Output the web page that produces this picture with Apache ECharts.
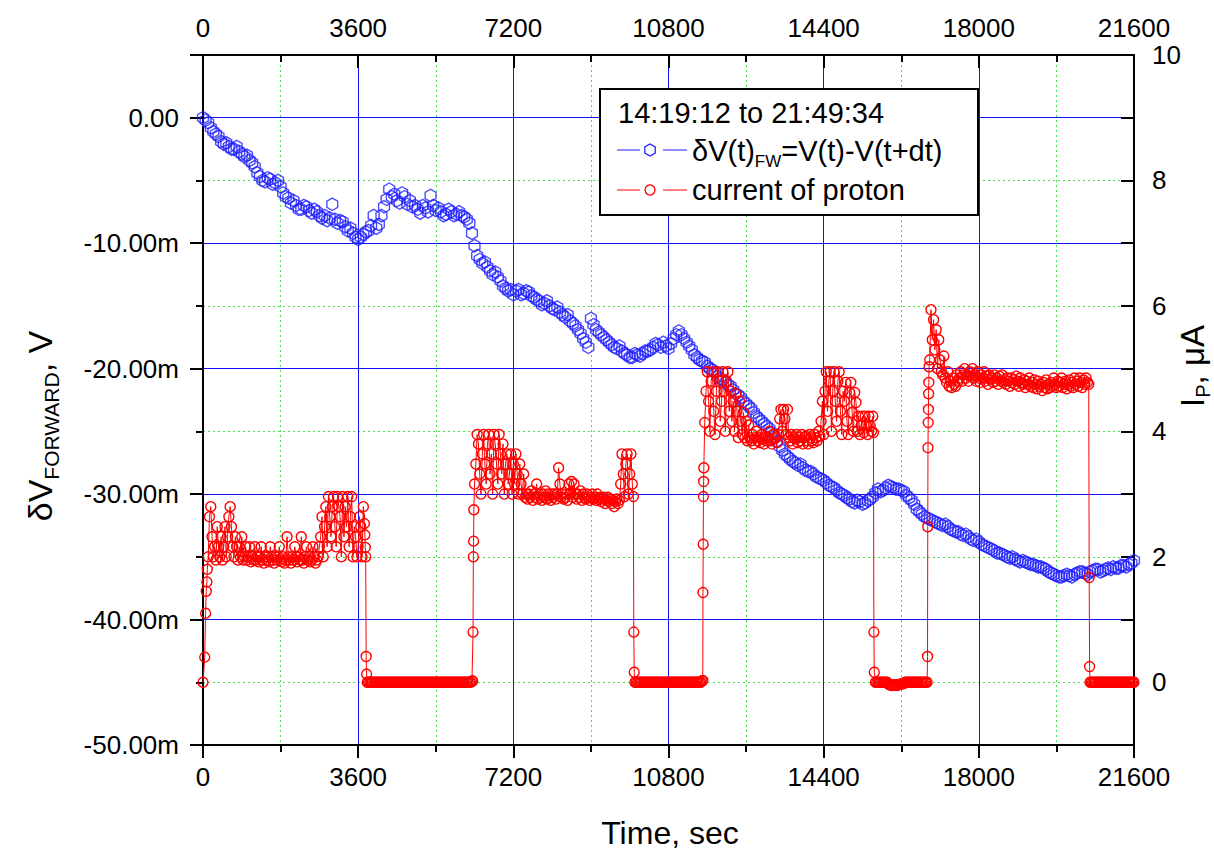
<!DOCTYPE html>
<html><head><meta charset="utf-8">
<script src="https://cdn.jsdelivr.net/npm/echarts@6/dist/echarts.min.js"></script>
<style>html,body{margin:0;padding:0;background:#fff}#c{width:1214px;height:851px}</style>
</head><body><div id="c"></div>
<script>
// ---------- tick labels ----------
const timeTicks = [0, 3600, 7200, 10800, 14400, 18000, 21600];   // sec
const dvTicks = [-50, -40, -30, -20, -10, 0];                    // mV
const ipTicks = [0, 2, 4, 6, 8, 10];                             // uA

// ---------- blue series: dV forward (mV), sampled every 60 s from t=0 ----------
const dvStart = 0, dvStep = 60;
const dvForward = [
  0.0,-0.2,-0.4,-0.8,-1.1,-1.3,-1.5,-1.9,-2.1,-2.0,-2.3,-2.5,-2.5,-2.3,-2.7,-2.9,-3.1,-3.0,-3.4,-3.6,
  -3.9,-4.4,-4.7,-5.0,-5.1,-4.8,-4.9,-5.3,-5.2,-5.0,-5.5,-6.0,-6.3,-6.4,-6.8,-6.6,-7.0,-7.3,-7.3,-7.0,
  -7.1,-7.4,-7.6,-7.3,-7.5,-7.8,-8.0,-7.8,-8.2,-8.0,-6.9,-8.1,-8.4,-8.2,-8.3,-8.7,-9.0,-8.8,-9.2,-9.5,
  -9.7,-9.5,-9.3,-9.1,-9.0,-8.6,-7.8,-8.8,-8.5,-7.8,-7.1,-6.5,-5.7,-6.3,-6.1,-6.6,-6.8,-6.0,-6.3,-6.9,
  -6.6,-7.1,-7.0,-7.3,-7.6,-7.0,-7.2,-7.5,-6.2,-7.0,-7.4,-7.2,-7.5,-7.8,-7.7,-7.3,-7.5,-7.8,-7.7,-7.5,
  -7.8,-7.9,-8.1,-8.4,-9.2,-10.2,-11.0,-11.3,-11.6,-11.5,-11.9,-12.2,-12.5,-12.3,-12.7,-13.0,-13.4,-13.6,-13.8,-13.7,
  -14.1,-13.8,-13.7,-14.1,-14.0,-13.8,-13.9,-14.2,-14.3,-14.5,-14.6,-14.9,-14.8,-14.6,-15.0,-15.2,-15.3,-15.1,-15.5,-15.7,
  -15.9,-15.7,-16.2,-16.4,-16.6,-16.9,-17.2,-17.6,-17.9,-18.3,-16.0,-16.5,-16.9,-17.1,-17.3,-17.5,-17.7,-17.9,-18.1,-18.3,
  -18.4,-18.2,-18.6,-18.8,-18.9,-19.1,-19.1,-18.8,-18.9,-19.0,-18.8,-18.6,-18.6,-18.5,-18.3,-18.0,-18.1,-18.3,-17.9,-18.2,
  -18.4,-18.0,-17.6,-17.3,-17.0,-17.3,-17.6,-17.9,-18.2,-18.5,-18.9,-19.1,-19.3,-19.4,-19.5,-19.8,-20.0,-20.1,-20.3,-20.6,
  -20.8,-20.9,-21.1,-21.3,-21.4,-21.7,-22.0,-22.1,-22.3,-22.6,-22.8,-23.0,-23.2,-23.5,-23.8,-24.0,-24.2,-24.4,-24.6,-24.8,
  -25.1,-25.4,-25.8,-26.2,-26.5,-26.8,-27.0,-27.2,-27.4,-27.5,-27.7,-27.6,-27.9,-28.1,-28.2,-28.2,-28.4,-28.6,-28.7,-28.8,
  -28.9,-29.1,-29.3,-29.4,-29.5,-29.7,-29.9,-30.0,-30.1,-30.3,-30.4,-30.6,-30.7,-30.5,-30.6,-30.8,-30.7,-30.5,-30.4,-30.2,
  -29.9,-29.6,-29.8,-29.7,-29.5,-29.3,-29.4,-29.5,-29.6,-29.6,-29.7,-29.8,-30.1,-30.3,-30.5,-30.8,-31.2,-31.4,-31.6,-31.8,
  -31.9,-32.0,-32.1,-32.2,-32.3,-32.4,-32.5,-32.4,-32.6,-32.8,-32.9,-33.0,-33.0,-33.2,-33.3,-33.2,-33.4,-33.6,-33.7,-33.6,
  -33.8,-34.0,-34.1,-34.2,-34.3,-34.4,-34.5,-34.7,-34.7,-34.8,-34.9,-35.0,-35.1,-35.0,-35.2,-35.3,-35.4,-35.3,-35.4,-35.5,
  -35.6,-35.6,-35.7,-35.8,-35.8,-35.9,-36.0,-36.2,-36.3,-36.4,-36.5,-36.6,-36.6,-36.5,-36.4,-36.5,-36.6,-36.4,-36.3,-36.2,
  -36.2,-36.3,-36.4,-36.2,-36.1,-36.0,-36.0,-36.2,-36.1,-36.0,-35.9,-36.0,-35.8,-35.9,-35.9,-35.7,-35.7,-35.8,-35.6,-35.5,
  -35.3
];

// ---------- red series: proton current (uA) ----------
// beam-on plateaus sampled every 30 s, beam-off (zero) segments every 30 s,
// fast switching edges as explicit [t, I] pairs
const plateauStep = 30, zeroStep = 30;

const riseA = [[0,0],[40,0.4],[60,1.1],[75,1.45],[90,1.6],[100,1.8]];
const curAStart = 120;
const curA = [
  2.0,2.64,2.8,2.32,2.0,2.16,1.95,2.48,2.16,2.0,
  2.32,1.95,2.16,2.48,2.0,2.32,2.64,2.8,2.48,2.16,
  2.0,2.32,2.16,1.95,2.16,2.0,2.32,1.95,2.0,2.16,
  1.95,2.0,2.16,1.92,2.0,1.95,2.16,
  1.95,2.0,1.92,2.0,2.16,1.95,1.9,2.0,1.95,2.0,
  1.92,2.16,2.0,1.95,1.9,2.0,1.95,2.0,2.16,1.95,
  1.92,2.0,1.9,1.95,2.32,2.0,1.95,1.9,2.0,1.95,
  2.16,2.0,1.92,2.0,1.95,2.32,1.95,1.9,2.0,2.16,
  1.95,2.0,1.92,1.95,2.16,2.0,1.9,1.95,2.0,2.16,
  2.32,2.64,2.0,2.48,2.8,2.16,2.96,2.64,2.32,2.8,
  2.96,2.48,2.16,2.96,2.8,2.64,2.0,2.96,2.32,2.8,
  2.48,2.96,2.16,2.64,2.96,2.0,2.48,2.32,2.0,2.16,
  2.64,2.48,2.0,2.8
];
const fallA = [[3745,2.53],[3755,2.35],[3765,2.15],[3775,2.0],[3785,0.41],[3795,0.13]];
const zeroAStart = 3810;
const zeroA = [
  0,0,0,0,0,0,0,0,0,0, 0,0,0,0,0,0,0,0,0,0,
  0,0,0,0,0,0,0,0,0,0, 0,0,0,0,0,0,0,0,0,0,
  0,0,0,0,0,0,0,0,0,0, 0,0,0,0,0,0,0,0,0,0,
  0,0,0,0,0,0,0,0,0,0, 0,0,0,0,0,0,0,0,0,0,
  0,0.02
];
const riseB = [[6255,0.02],[6265,0.8],[6272,2.0],[6278,2.25],[6284,2.75]];
const curBStart = 6300;
const curB = [
  3.16,3.48,3.95,3.8,3.32,3.0,3.64,3.95,3.48,3.16,3.8,3.95,3.32,3.64,3.0,3.95,3.8,3.48,3.16,3.95,3.64,3.32,3.8,
  3.0,3.48,3.64,3.16,3.32,3.64,3.0,3.48,3.16,3.64,3.32,3.0,3.48,3.16,3.0,3.32,
  2.95,3.0,2.92,3.0,2.95,3.05,2.9,3.0,2.95,3.16,
  2.92,3.0,2.95,2.9,3.0,2.95,3.05,2.92,3.0,2.95,
  2.9,3.0,2.95,3.0,2.92,3.0,3.42,3.16,2.95,3.0,
  2.92,2.95,3.0,2.9,3.16,3.0,3.2,2.95,3.16,3.0,
  2.92,3.0,2.95,3.05,2.9,3.0,2.95,2.92,3.0,2.95,
  2.9,2.95,3.0,2.92,2.95,2.9,3.0,2.92,2.95,2.88,
  2.92,2.95,2.85,2.9,2.95,2.88,2.92,2.85,2.9,2.8,
  2.88,2.92,2.85,2.9,
  3.16,3.64,3.32,2.96,3.48,3.64,3.0,3.32,3.64,3.16
];
const fallB = [[9985,2.96],[9995,0.8],[10005,0.16]];
const zeroBStart = 10020;
const zeroB = [
  0,0,0,0,0,0,0,0,0,0, 0,0,0,0,0,0,0,0,0,0,
  0,0,0,0,0,0,0,0,0,0, 0,0,0,0,0,0,0,0,0,0,
  0,0,0,0,0,0,0,0,0,0, 0,0,0.02
];
const riseC = [[11595,0.03],[11600,1.43],[11605,2.2],[11610,2.96],[11615,3.2],[11620,3.42]];
const curCStart = 11640;
const curC = [
  4.14,4.64,4.95,4.48,4.0,4.8,4.95,4.32,3.95,4.64,4.95,4.8,4.16,4.48,4.95,4.64,4.0,4.8,4.95,4.32,4.64,4.16,4.48,
  4.0,4.6,4.32,3.9,4.48,4.16,3.95,4.3,3.9,4.16,3.85,4.1,3.9,
  3.85,3.95,3.8,3.9,4.0,3.85,3.9,3.82,3.95,3.88,3.8,3.92,3.85,3.9,4.0,3.85,3.8,3.95,3.88,3.9,3.82,3.95,
  4.2,4.35,4.0,4.35,4.2,3.95,4.35,
  3.9,3.85,3.95,3.8,3.9,3.88,3.95,3.82,3.9,3.85,3.95,3.8,3.9,3.92,3.85,3.8,3.95,3.9,3.85,3.82,3.95,3.9,3.85,4.0,3.92,
  4.16,4.48,3.95,4.64,4.95,4.32,4.8,4.95,4.0,4.64,
  4.95,4.48,4.16,4.8,4.95,4.32,3.95,4.64,4.48,4.78,
  4.16,3.95,4.62,4.78,4.3,4.0,4.62,4.46,4.0,4.24,
  3.95,4.1,4.24,3.98,4.24,4.1,3.95,4.24,4.08,4.0,
  4.24
];
const fallC = [[15555,3.98],[15565,0.8],[15575,0.16]];
const zeroCStart = 15600;
const zeroC = [
  0,0,0,0,0,0,0,0,0,0, -0.03,-0.04,-0.05,-0.05,-0.04,-0.05,-0.04,-0.05,-0.04,-0.03,
  -0.03,-0.02,-0.02,0,0,0,0,0,0,0, 0,0,0,0,0,0,0,0,0,0,
  0
];
const riseD = [[16810,0.41],[16815,2.48],[16820,3.74],[16825,4.14],[16830,4.35],[16835,4.6],[16840,4.78],[16845,5.03]];
const curDStart = 16860;
const curD = [
  5.14,5.94,5.46,5.78,5.3,5.62,5.0,5.46,5.14,4.95,
  4.9,5.2,4.85,4.78,4.95,4.72,4.8,4.7,4.85,4.75,4.72,4.9,4.8,
  4.85,4.95,4.8,4.9,5.0,4.85,4.9,4.8,4.95,4.88,
  5.0,4.85,4.9,4.8,4.95,4.85,4.78,4.9,4.85,4.95,
  4.8,4.88,4.75,4.9,4.82,4.85,4.78,4.9,4.8,4.85,
  4.75,4.88,4.8,4.9,4.78,4.82,4.75,4.85,4.8,4.72,
  4.85,4.78,4.82,4.75,4.88,4.8,4.72,4.85,4.78,4.75,
  4.82,4.7,4.8,4.75,4.85,4.72,4.78,4.7,4.82,4.75,
  4.68,4.8,4.72,4.75,4.65,4.78,4.7,4.82,4.68,4.75,
  4.7,4.78,4.72,4.85,4.75,4.7,4.8,4.72,4.78,4.85,
  4.7,4.75,4.8,4.68,4.75,4.82,4.72,4.78,4.7,4.85,
  4.75,4.8,4.72,4.85,4.78,4.7,4.82,4.75,4.85,4.78
];
const fallD = [[20550,4.75],[20560,1.67],[20570,0.25]];
const zeroDStart = 20580;
const zeroD = [
  0,0,0,0,0,0,0,0,0,0, 0,0,0,0,0,0,0,0,0,0,
  0,0,0,0,0,0,0,0,0,0, 0,0,0,0,0
];

// ---------- assemble ----------
function seg(start, step, vals) { return vals.map((v, i) => [start + i * step, v]); }
const blueData = seg(dvStart, dvStep, dvForward);
const redData = [].concat(
  riseA, seg(curAStart, plateauStep, curA), fallA, seg(zeroAStart, zeroStep, zeroA),
  riseB, seg(curBStart, plateauStep, curB), fallB, seg(zeroBStart, zeroStep, zeroB),
  riseC, seg(curCStart, plateauStep, curC), fallC, seg(zeroCStart, zeroStep, zeroC),
  riseD, seg(curDStart, plateauStep, curD), fallD, seg(zeroDStart, zeroStep, zeroD)
);

const FONT = '"Liberation Sans", Arial, Helvetica, sans-serif';
const BLUE = '#1f1fff', GRID_BLUE = '#1010ff', GREEN = '#44e044', RED = '#ff0000';
const HEX = 'path://M0,-1L0.866,-0.5L0.866,0.5L0,1L-0.866,0.5L-0.866,-0.5Z';

const axisLineBlack = { show: true, onZero: false, lineStyle: { color: '#000', width: 2 } };
const tickStyle = { color: '#000', width: 2 };

const chart = echarts.init(document.getElementById('c'), null, { renderer: 'svg' });
chart.setOption({
  animation: false,
  backgroundColor: '#fff',
  grid: { left: 203, right: 80, top: 55, bottom: 106, show: false },
  xAxis: [
    {
      type: 'value', position: 'bottom', min: timeTicks[0], max: timeTicks[timeTicks.length - 1],
      interval: timeTicks[1] - timeTicks[0],
      axisLine: axisLineBlack,
      axisTick: { show: true, inside: false, length: 13, lineStyle: tickStyle },
      minorTick: { show: true, splitNumber: 2, length: 7, lineStyle: tickStyle },
      splitLine: { show: true, lineStyle: { color: GRID_BLUE, width: 1 } },
      minorSplitLine: { show: true, lineStyle: { color: GREEN, width: 1, type: [2, 3] } },
      axisLabel: { fontSize: 26, color: '#000', margin: 19, fontFamily: FONT,
        formatter: v => timeTicks.includes(v) ? String(v) : '' }
    },
    {
      type: 'value', position: 'top', min: timeTicks[0], max: timeTicks[timeTicks.length - 1],
      interval: timeTicks[1] - timeTicks[0],
      axisLine: axisLineBlack,
      axisTick: { show: true, inside: true, length: 13, lineStyle: tickStyle },
      minorTick: { show: true, splitNumber: 2, length: 7, lineStyle: tickStyle },
      splitLine: { show: false },
      axisLabel: { fontSize: 26, lineHeight: 21, color: '#000', margin: 17, fontFamily: FONT,
        formatter: v => timeTicks.includes(v) ? String(v) : '' }
    }
  ],
  yAxis: [
    {
      type: 'value', position: 'left', min: -50, max: 5, interval: 10,
      axisLine: axisLineBlack,
      axisTick: { show: true, inside: false, length: 13, lineStyle: tickStyle },
      minorTick: { show: true, splitNumber: 2, length: 7, lineStyle: tickStyle },
      splitLine: { show: true, lineStyle: { color: GRID_BLUE, width: 1 } },
      minorSplitLine: { show: true, lineStyle: { color: GREEN, width: 1, type: [2, 3] } },
      axisLabel: { fontSize: 26, color: '#000', margin: 24, fontFamily: FONT,
        formatter: v => dvTicks.includes(v) ? (v === 0 ? '0.00' : v.toFixed(2) + 'm') : '' }
    },
    {
      type: 'value', position: 'right', min: -1, max: 10, interval: 1,
      axisLine: axisLineBlack,
      axisTick: { show: true, inside: true, length: 13, lineStyle: tickStyle },
      splitLine: { show: false },
      axisLabel: { fontSize: 26, lineHeight: 21, color: '#000', margin: 18, fontFamily: FONT,
        formatter: v => ipTicks.includes(v) ? String(v) : '' }
    }
  ],
  series: [
    {
      name: 'δV(t)FW=V(t)-V(t+dt)', type: 'scatter', xAxisIndex: 0, yAxisIndex: 0,
      data: blueData, symbol: HEX, symbolSize: 12.5, symbolKeepAspect: true, silent: true, z: 3,
      itemStyle: { color: 'rgba(0,0,255,0)', borderColor: BLUE, borderWidth: 1.4 }
    },
    {
      name: 'current of proton', type: 'line', xAxisIndex: 0, yAxisIndex: 1,
      data: redData, symbol: 'circle', symbolSize: 10, showSymbol: true, silent: true, z: 4,
      itemStyle: { color: 'rgba(255,0,0,0)', borderColor: RED, borderWidth: 1.4 },
      lineStyle: { color: RED, width: 1 }
    }
  ],
  graphic: [
    { type: 'rect', z: 100, shape: { x: 600, y: 89, width: 378, height: 126 },
      style: { fill: '#fff', stroke: '#000', lineWidth: 2 } },
    { type: 'text', z: 101, x: 618, y: 113,
      style: { text: '14:19:12 to 21:49:34', font: '29px ' + FONT, fill: '#000', verticalAlign: 'middle' } },
    { type: 'line', z: 101, shape: { x1: 617, y1: 150, x2: 640, y2: 150 }, style: { stroke: BLUE, lineWidth: 1 } },
    { type: 'polygon', z: 101, shape: { points: [[650,144],[655.2,147],[655.2,153],[650,156],[644.8,153],[644.8,147]] },
      style: { fill: 'none', stroke: BLUE, lineWidth: 1.3 } },
    { type: 'line', z: 101, shape: { x1: 663, y1: 150, x2: 687, y2: 150 }, style: { stroke: BLUE, lineWidth: 1 } },
    { type: 'text', z: 101, x: 692, y: 151,
      style: { text: '{a|δV(t)}{b|FW}{a|=V(t)-V(t+dt)}', verticalAlign: 'middle', fill: '#000',
        rich: { a: { fontSize: 29, fontFamily: FONT, fill: '#000' },
                b: { fontSize: 17, fontFamily: FONT, fill: '#000', padding: [20, 0, 0, 0] } } } },
    { type: 'line', z: 101, shape: { x1: 617, y1: 190, x2: 640, y2: 190 }, style: { stroke: RED, lineWidth: 1 } },
    { type: 'circle', z: 101, shape: { cx: 650, cy: 190, r: 5 }, style: { fill: 'none', stroke: RED, lineWidth: 1.3 } },
    { type: 'line', z: 101, shape: { x1: 663, y1: 190, x2: 687, y2: 190 }, style: { stroke: RED, lineWidth: 1 } },
    { type: 'text', z: 101, x: 692, y: 190,
      style: { text: 'current of proton', font: '29px ' + FONT, fill: '#000', verticalAlign: 'middle' } },
    // axis titles
    { type: 'text', z: 101, x: 670, y: 833,
      style: { text: 'Time, sec', font: '32px ' + FONT, fill: '#000', align: 'center', verticalAlign: 'middle' } },
    { type: 'text', z: 101, x: 40, y: 426, rotation: Math.PI / 2,
      style: { text: '{a|δV}{b|FORWARD}{a|, V}', align: 'center', verticalAlign: 'middle', fill: '#000',
        rich: { a: { fontSize: 34, fontFamily: FONT, fill: '#000' },
                b: { fontSize: 21, fontFamily: FONT, fill: '#000', padding: [22, 0, 0, 0] } } } },
    { type: 'text', z: 101, x: 1192, y: 366, rotation: Math.PI / 2,
      style: { text: '{a|I}{b|P}{a|, μA}', align: 'center', verticalAlign: 'middle', fill: '#000',
        rich: { a: { fontSize: 33, fontFamily: FONT, fill: '#000' },
                b: { fontSize: 20, fontFamily: FONT, fill: '#000', padding: [22, 0, 0, 0] } } } }
  ]
});
</script>
</body></html>
